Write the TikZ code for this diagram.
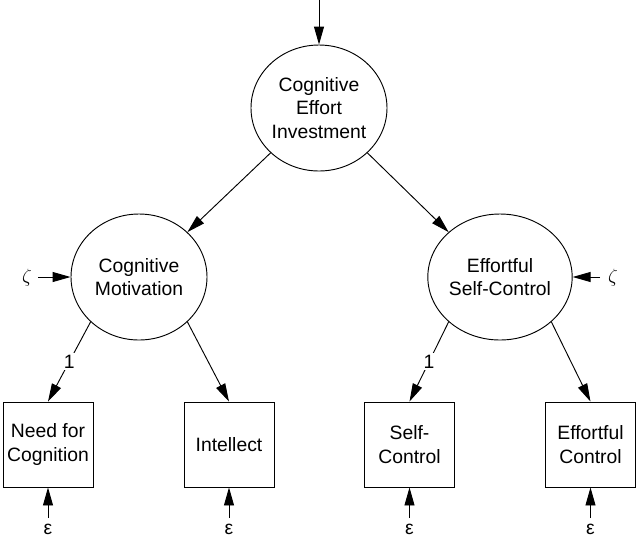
\documentclass[tikz,border=0pt]{standalone}
\usepackage{fontspec}
\setmainfont{Liberation Sans}
\usetikzlibrary{shapes.geometric,arrows.meta}
\begin{document}
\begin{tikzpicture}[x=0.75pt,y=-0.75pt,
  font=\fontsize{14.5}{17.4}\selectfont,
  latent/.style={draw,ellipse,line width=0.7pt,inner sep=0pt,minimum width=102pt,minimum height=94.5pt,align=center},
  manifest/.style={draw,rectangle,line width=0.7pt,inner sep=0pt,minimum width=67.5pt,minimum height=63.75pt,align=center},
  conn/.style={line width=0.7pt,-{Triangle[length=13.5pt,width=7.5pt]}},
  lab/.style={fill=white,inner sep=1.5pt},
  errlab/.style={inner sep=0pt}]
\useasboundingbox (0,0) rectangle (640,537);
% latent variables
\node[latent] (cei) at (319,108) {Cognitive\\Effort\\Investment};
\node[latent] (cm) at (139,277) {Cognitive\\Motivation};
\node[latent] (esc) at (500,277) {Effortful\\Self-Control};
% indicators
\node[manifest] (nfc) at (48,444.5) {Need for\\Cognition};
\node[manifest] (int) at (229,444.5) {Intellect};
\node[manifest] (sc) at (409.5,444.5) {Self-\\Control};
\node[manifest] (ec) at (590.5,444.5) {Effortful\\Control};
% disturbance / error sources
\coordinate (topin) at (319,0);
\coordinate (zl) at (38,277);
\coordinate (zr) at (600,277);
\node[errlab] (zetal) at (27,278) {\fontsize{15}{17}\selectfont$\zeta$};
\node[errlab] (zetar) at (613,278) {\fontsize{15}{17}\selectfont$\zeta$};
\foreach \n/\x in {nfc/48,int/229,sc/409.5,ec/590.5}{
  \coordinate (src\n) at (\x,518);
  \node[errlab] (eps\n) at (\x,529) {ε};
  \draw[conn] (src\n) -- (\n.south);
}
% connectors
\draw[conn] (topin) -- (cei.north);
\draw[conn] (cei.south west) -- (cm.north east);
\draw[conn] (cei.south east) -- (esc.north west);
\draw[conn] (zl) -- (cm.west);
\draw[conn] (zr) -- (esc.east);
\draw[conn] (cm.south west) -- node[lab,pos=0.5] (l1) {1} (nfc.north);
\draw[conn] (cm.south east) -- (int.north);
\draw[conn] (esc.south west) -- node[lab,pos=0.5] (l2) {1} (sc.north);
\draw[conn] (esc.south east) -- (ec.north);
\end{tikzpicture}
\end{document}
